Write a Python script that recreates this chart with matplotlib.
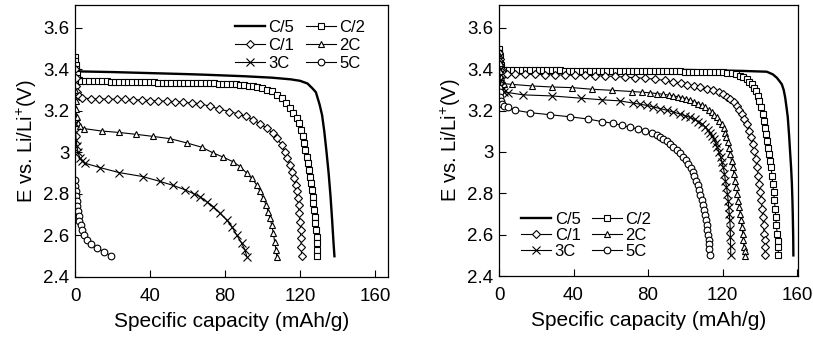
import matplotlib
matplotlib.use("Agg")
import matplotlib.pyplot as plt
from matplotlib.ticker import FuncFormatter

plt.rcParams["font.family"] = ["Liberation Sans", "DejaVu Sans"]
plt.rcParams["mathtext.default"] = "regular"

# ---------------- left panel data ----------------
l_c5_x = [0, 0.5, 1.5, 3, 20, 40, 60, 70, 90, 105, 115, 120, 124, 126.5, 128.5, 130.5,
          131.8, 133, 134.2, 135.3, 136.3, 137.2, 137.8, 138.4]
l_c5_y = [3.42, 3.40, 3.393, 3.39, 3.387, 3.382, 3.377, 3.374, 3.367, 3.360, 3.352, 3.345,
          3.332, 3.31, 3.29, 3.23, 3.18, 3.10, 3.0, 2.90, 2.79, 2.67, 2.58, 2.50]

l_c2_x = [0, 0.2, 0.4, 0.6, 0.9, 1.3, 2, 3, 5.3, 7.6, 9.9, 12.2, 14.5, 16.8, 19.1, 21.4,
          23.7, 26, 28.3, 30.6, 32.9, 35.2, 37.5, 39.8, 42.1, 44.4, 46.7, 49, 51.3, 53.6,
          55.9, 58.2, 60.5, 62.8, 65.1, 67.4, 69.7, 72, 74.3, 76.6, 78.9, 81.2, 83.5, 85.8,
          88.1, 90.4, 92.7, 95, 97.3, 99.6, 102.2, 104.9, 107.6, 110.2, 112.5, 114.7, 116.4,
          118.2, 119.5, 120.5, 121.4, 122.1, 122.8, 123.6, 124.1, 124.6, 125.2, 125.7, 126.2,
          126.8, 127.1, 127.5, 127.8, 128.2, 128.5, 128.9, 129.1, 129.2, 129.3]
l_c2_y = [3.46, 3.44, 3.42, 3.40, 3.38, 3.36, 3.35, 3.345, 3.344, 3.344, 3.343, 3.343, 3.342,
          3.342, 3.341, 3.341, 3.340, 3.340, 3.339, 3.339, 3.338, 3.338, 3.337, 3.337, 3.337,
          3.336, 3.336, 3.336, 3.335, 3.335, 3.335, 3.334, 3.334, 3.334, 3.333, 3.333, 3.333,
          3.332, 3.332, 3.331, 3.331, 3.330, 3.329, 3.328, 3.326, 3.324, 3.321, 3.318, 3.314,
          3.310, 3.302, 3.294, 3.278, 3.262, 3.238, 3.214, 3.190, 3.165, 3.141, 3.109, 3.077,
          3.045, 3.013, 2.980, 2.948, 2.916, 2.884, 2.852, 2.820, 2.787, 2.756, 2.723, 2.691,
          2.659, 2.627, 2.594, 2.563, 2.530, 2.500]

l_c1_x = [0, 0.3, 0.7, 1.2, 2, 3.6, 8.4, 13, 17.4, 22.2, 26.7, 31.1, 35.6, 40, 44.4, 48.9,
          53.3, 57.8, 62.2, 66.7, 72, 77, 82.3, 86.8, 91.2, 95.1, 98.7, 102.2, 105.4, 107.6,
          110.2, 112, 113.2, 114.7, 115.7, 116.8, 117.7, 118.2, 118.7, 119.3, 119.6, 120,
          120.4, 120.5, 120.7, 120.9]
l_c1_y = [3.40, 3.36, 3.32, 3.29, 3.27, 3.262, 3.259, 3.257, 3.257, 3.256, 3.255, 3.254,
          3.252, 3.250, 3.248, 3.246, 3.244, 3.241, 3.238, 3.235, 3.222, 3.209, 3.197, 3.186,
          3.173, 3.157, 3.138, 3.117, 3.093, 3.069, 3.037, 3.004, 2.973, 2.940, 2.908, 2.876,
          2.844, 2.812, 2.780, 2.747, 2.707, 2.667, 2.627, 2.587, 2.546, 2.500]

l_2c_x = [0, 0.3, 0.6, 1, 1.6, 2.5, 4.6, 14.2, 23.6, 32.7, 41.8, 50.8, 59.9, 67.6, 73.8,
          79.1, 84.1, 88, 91.6, 94.2, 96.9, 98.7, 100.4, 101.9, 103.1, 104, 104.9, 105.8,
          106.5, 107.2, 107.6]
l_2c_y = [3.30, 3.25, 3.21, 3.17, 3.14, 3.125, 3.115, 3.103, 3.096, 3.087, 3.077, 3.066,
          3.045, 3.025, 2.997, 2.977, 2.956, 2.932, 2.900, 2.876, 2.844, 2.812, 2.780, 2.747,
          2.715, 2.683, 2.651, 2.611, 2.570, 2.530, 2.497]

l_3c_x = [0, 0.3, 0.6, 1, 1.6, 2.5, 3.8, 5.3, 13.3, 23.5, 36, 45.1, 52.4, 58.7, 63.5, 66.7,
          70.2, 73.8, 77.3, 80.9, 83.6, 86.2, 88.9, 90.7, 91.6]
l_3c_y = [3.14, 3.10, 3.06, 3.03, 3.00, 2.975, 2.96, 2.948, 2.927, 2.903, 2.884, 2.861,
          2.841, 2.820, 2.80, 2.787, 2.763, 2.739, 2.707, 2.675, 2.643, 2.603, 2.563, 2.530,
          2.498]

l_5c_x = [0, 0, 0.36, 0.53, 0.89, 1.24, 1.6, 1.96, 2.3, 3.0, 3.7, 4.8, 6.6, 8.7, 11.9, 15.5,
          19.2]
l_5c_y = [2.865, 2.836, 2.812, 2.791, 2.768, 2.742, 2.718, 2.694, 2.672, 2.649, 2.627, 2.603,
          2.578, 2.558, 2.538, 2.522, 2.501]

# ---------------- right panel data ----------------
r_c5_x = [0, 0.5, 1.5, 3, 40, 75.7, 110, 130, 143.7, 147, 149.1, 150.5, 151.8, 152.8, 153.6,
          154.4, 155, 155.7, 156.2, 156.8, 157.2, 157.5, 157.7, 157.9, 158]
r_c5_y = [3.46, 3.42, 3.405, 3.40, 3.40, 3.40, 3.395, 3.392, 3.388, 3.375, 3.359, 3.343,
          3.327, 3.30, 3.263, 3.21, 3.167, 3.08, 3.006, 2.92, 2.846, 2.76, 2.685, 2.59, 2.50]

r_c2_x = [0, 0.2, 0.4, 0.6, 0.9, 1.3, 2, 3, 5.3, 7.6, 9.9, 12.2, 14.5, 16.8, 19.1, 21.4,
          23.7, 26, 28.3, 30.6, 32.9, 35.2, 37.5, 39.8, 42.1, 44.4, 46.7, 49, 51.3, 53.6,
          55.9, 58.2, 60.5, 62.8, 65.1, 67.4, 69.7, 72, 74.3, 76.6, 78.9, 81.2, 83.5, 85.8,
          88.1, 90.4, 92.7, 95, 97.3, 99.6, 101.9, 104.2, 106.5, 108.8, 111.1, 113.4, 115.7,
          118, 120.3, 122.6, 124.9, 127.1, 129.4, 131.2, 133, 134.4, 135.7, 137, 138, 139,
          139.8, 140.7, 141.6, 142.2, 142.8, 143.5, 144.1, 144.6, 145.1, 145.6, 146, 146.5,
          146.9, 147.4, 147.8, 148.2, 148.5, 148.9, 149.3, 149.6, 149.8, 150]
r_c2_y = [3.50, 3.48, 3.46, 3.44, 3.42, 3.405, 3.398, 3.396, 3.396, 3.396, 3.396, 3.395,
          3.395, 3.395, 3.395, 3.395, 3.394, 3.394, 3.394, 3.394, 3.394, 3.393, 3.393, 3.393,
          3.393, 3.393, 3.393, 3.392, 3.392, 3.392, 3.392, 3.392, 3.392, 3.391, 3.391, 3.391,
          3.391, 3.391, 3.391, 3.391, 3.391, 3.391, 3.390, 3.390, 3.390, 3.390, 3.390, 3.390,
          3.390, 3.389, 3.389, 3.389, 3.389, 3.388, 3.388, 3.388, 3.387, 3.386, 3.385, 3.383,
          3.381, 3.376, 3.367, 3.360, 3.351, 3.340, 3.327, 3.31, 3.295, 3.27, 3.247, 3.215,
          3.183, 3.15, 3.118, 3.085, 3.054, 3.02, 2.990, 2.958, 2.926, 2.886, 2.846, 2.806,
          2.766, 2.726, 2.685, 2.645, 2.605, 2.57, 2.541, 2.50]

r_c1_x = [0, 0.3, 0.6, 1, 1.6, 2.5, 4.5, 8.6, 14, 19.3, 24.7, 30.1, 35.4, 40.8, 46.2, 51.5,
          56.9, 62.3, 67.7, 73, 78.3, 83.6, 88.9, 93.6, 97.5, 100.8, 104.4, 107.9, 111.5, 115.1,
          118, 120.4, 122.3, 124, 125.9, 127.6, 129, 130.3, 131.7, 133, 134.2, 135.3, 136.2,
          137.1, 137.8, 138.5, 139.2, 139.8, 140.3, 140.8, 141.2, 141.6, 142, 142.3, 142.5,
          142.7, 142.8]
r_c1_y = [3.48, 3.45, 3.42, 3.40, 3.385, 3.378, 3.376, 3.376, 3.376, 3.375, 3.374, 3.373,
          3.372, 3.371, 3.370, 3.369, 3.367, 3.365, 3.362, 3.359, 3.356, 3.352, 3.346, 3.338,
          3.331, 3.325, 3.319, 3.313, 3.306, 3.298, 3.289, 3.279, 3.268, 3.255, 3.240, 3.223,
          3.204, 3.183, 3.160, 3.135, 3.103, 3.070, 3.038, 3.006, 2.966, 2.926, 2.886, 2.846,
          2.806, 2.766, 2.726, 2.685, 2.645, 2.605, 2.573, 2.541, 2.500]

r_2c_x = [0, 0.3, 0.6, 1, 1.6, 2.6, 6.8, 17.9, 28.6, 39.4, 50.1, 60.8, 71.6, 76.5, 81.1, 85,
          88.2, 91, 93.6, 96, 98.1, 100.4, 102.6, 104.9, 107, 108.9, 110.6, 112.5, 114.2, 115.6,
          116.9, 118.3, 119.6, 120.5, 121.3, 122.1, 122.8, 123.4, 124, 124.8, 125.5, 126.1,
          126.7, 127.4, 128, 128.5, 129, 129.5, 129.9, 130.4, 130.8, 131.2, 131.5, 131.9, 132.2]
r_2c_y = [3.47, 3.43, 3.39, 3.36, 3.34, 3.33, 3.327, 3.319, 3.314, 3.311, 3.303, 3.298,
          3.292, 3.289, 3.286, 3.282, 3.279, 3.275, 3.271, 3.267, 3.263, 3.257, 3.250, 3.243,
          3.234, 3.225, 3.215, 3.203, 3.191, 3.179, 3.167, 3.152, 3.135, 3.115, 3.094, 3.07,
          3.046, 3.018, 2.990, 2.958, 2.926, 2.894, 2.862, 2.830, 2.798, 2.765, 2.733, 2.701,
          2.669, 2.637, 2.605, 2.573, 2.541, 2.52, 2.498]

r_3c_x = [0, 0.3, 0.6, 1, 1.6, 2.8, 5, 13.1, 28.3, 44, 55.5, 65, 72.1, 75.7, 79.3, 82.8,
          86.4, 90, 93.6, 97.2, 100, 102.6, 105, 107, 109, 110.6, 112, 113.3, 114.4, 115.4,
          116.3, 117.2, 118.1, 119, 119.7, 120.4, 121, 121.5, 122.1, 122.6, 123, 123.3, 123.6,
          123.9, 124.1, 124.2, 124.3, 124.4]
r_3c_y = [3.46, 3.40, 3.35, 3.32, 3.30, 3.29, 3.287, 3.276, 3.271, 3.260, 3.252, 3.247,
          3.236, 3.231, 3.225, 3.218, 3.210, 3.202, 3.193, 3.183, 3.175, 3.167, 3.157, 3.147,
          3.135, 3.122, 3.108, 3.094, 3.078, 3.063, 3.043, 3.022, 2.998, 2.974, 2.950, 2.926,
          2.894, 2.862, 2.830, 2.798, 2.765, 2.733, 2.701, 2.669, 2.629, 2.589, 2.545, 2.501]

r_5c_x = [0, 0.3, 0.6, 1, 1.6, 2.6, 4.6, 8.6, 16.6, 27.4, 38.1, 48, 55.1, 61, 65.9, 70.3,
          74.8, 78.5, 82, 84.7, 86.5, 88.2, 90, 91.8, 93.6, 95.4, 97.2, 99, 100.3, 101.6,
          102.8, 104, 104.9, 105.8, 106.6, 107.4, 108.1, 108.8, 109.5, 110.1, 110.6, 111.1,
          111.5, 111.8, 112.2, 112.6, 112.8, 112.9, 113.2]
r_5c_y = [3.31, 3.29, 3.265, 3.245, 3.23, 3.22, 3.215, 3.202, 3.19, 3.18, 3.17, 3.159,
          3.147, 3.139, 3.129, 3.119, 3.111, 3.102, 3.092, 3.083, 3.074, 3.063, 3.052, 3.039,
          3.025, 3.010, 2.994, 2.977, 2.960, 2.942, 2.922, 2.902, 2.882, 2.862, 2.838, 2.814,
          2.790, 2.766, 2.742, 2.718, 2.694, 2.670, 2.646, 2.621, 2.597, 2.573, 2.553, 2.533,
          2.501]

labels = ["C/5", "C/2", "C/1", "2C", "3C", "5C"]
markers = [None, "s", "D", "^", "x", "o"]
msizes = [0, 4.4, 3.8, 4.8, 5.2, 4.8]

left_data = [(l_c5_x, l_c5_y), (l_c2_x, l_c2_y), (l_c1_x, l_c1_y),
             (l_2c_x, l_2c_y), (l_3c_x, l_3c_y), (l_5c_x, l_5c_y)]
right_data = [(r_c5_x, r_c5_y), (r_c2_x, r_c2_y), (r_c1_x, r_c1_y),
              (r_2c_x, r_2c_y), (r_3c_x, r_3c_y), (r_5c_x, r_5c_y)]


def draw_panel(ax, data, xmax):
    handles = []
    for (x, y), lab, mk, ms in zip(data, labels, markers, msizes):
        if mk is None:
            h, = ax.plot(x, y, color="black", lw=1.7, label=lab)
        else:
            h, = ax.plot(x, y, color="black", lw=0.8, marker=mk, ms=ms,
                         mfc="white", mec="black", mew=0.8, label=lab)
        handles.append(h)
    ax.set_xlim(0, xmax)
    ax.set_ylim(2.4, 3.71)
    ax.set_xticks([0, 40, 80, 120, 160])
    ax.set_yticks([2.4, 2.6, 2.8, 3.0, 3.2, 3.4, 3.6])
    ax.yaxis.set_major_formatter(FuncFormatter(lambda v, p: "%g" % round(v, 1)))
    ax.tick_params(direction="in", length=5, width=0.8, labelsize=13.5)
    ax.tick_params(axis="x", pad=8)
    ax.tick_params(axis="y", pad=4)
    for s in ax.spines.values():
        s.set_linewidth(0.9)
    ax.set_xlabel("Specific capacity (mAh/g)", fontsize=15, labelpad=5)
    ax.set_ylabel("E vs. Li/Li$^{+}$(V)", fontsize=14.5, labelpad=3)
    # legend reads row-wise: C/5 C/2 / C/1 2C / 3C 5C
    order = [0, 2, 4, 1, 3, 5]
    return [handles[i] for i in order], [labels[i] for i in order]


fig = plt.figure(figsize=(8.13, 3.4), dpi=100)
ax1 = fig.add_axes([0.0923, 0.1853, 0.385, 0.8])
ax2 = fig.add_axes([0.6138, 0.188, 0.3678, 0.797])

h, l = draw_panel(ax1, left_data, 167)
ax1.legend(h, l, ncol=2, frameon=False, fontsize=12, loc="upper right",
           bbox_to_anchor=(0.97, 0.995), handlelength=1.8, handletextpad=0.2,
           columnspacing=0.7, labelspacing=0.18, borderpad=0.3)

h, l = draw_panel(ax2, right_data, 160.5)
ax2.legend(h, l, ncol=2, frameon=False, fontsize=12, loc="lower left",
           bbox_to_anchor=(0.03, 0.015), handlelength=1.8, handletextpad=0.2,
           columnspacing=0.7, labelspacing=0.05, borderpad=0.3)

fig.savefig("out.png", dpi=100)
plt.close(fig)
